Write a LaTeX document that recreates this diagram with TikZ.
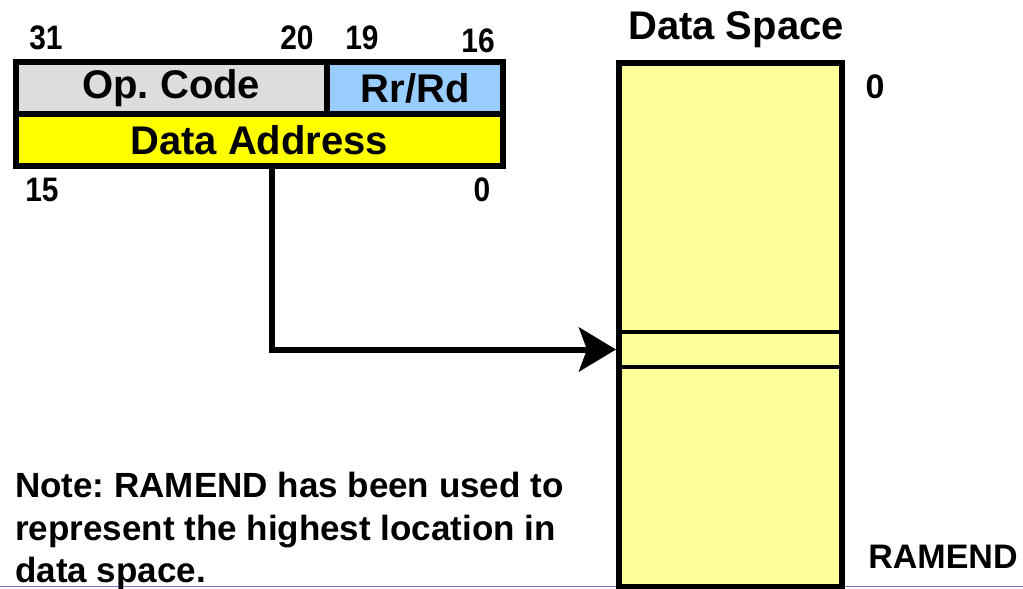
\documentclass[tikz,border=0pt]{standalone}
\usepackage{fontspec}
\setmainfont{Liberation Sans}
\newfontfamily\bitfont[FakeStretch=0.88]{Liberation Sans}
\usetikzlibrary{arrows.meta, positioning}
\definecolor{opgray}{HTML}{DDDDDD}
\definecolor{regblue}{HTML}{99CCFF}
\definecolor{addryellow}{HTML}{FFFF00}
\definecolor{spaceyellow}{HTML}{FFFF99}
\definecolor{slideline}{RGB}{120,120,200}
\frenchspacing

\begin{document}
\begin{tikzpicture}[
    x=1pt, y=-1pt,
    >=Stealth,
    field/.style={
        draw,
        line width=6pt,
        inner sep=0pt,
        outer sep=0pt,
        minimum height=52pt,
        font=\fontsize{40}{48}\selectfont\bfseries
    },
    bitnum/.style={font=\bitfont\fontsize{34}{40}\selectfont\bfseries, inner sep=0pt},
    side/.style={font=\fontsize{34}{40}\selectfont\bfseries, inner sep=0pt},
    title/.style={font=\fontsize{40}{48}\selectfont\bfseries, inner sep=0pt},
    note/.style={
        font=\fontsize{35}{42.5}\selectfont\bfseries,
        align=left,
        inner sep=0pt
    },
    space/.style={
        draw,
        line width=6pt,
        fill=spaceyellow,
        minimum width=223pt,
        minimum height=524pt
    },
    slot/.style={
        draw,
        line width=4pt,
        outer sep=3pt,
        minimum width=223pt,
        minimum height=35pt
    },
    link/.style={line width=6pt, -{Stealth[length=37pt, width=44pt, inset=8pt]}}
]
\useasboundingbox (0,0) rectangle (1023,589);

% ---------------- Instruction word ----------------
\node[field, fill=opgray, minimum width=311.5pt, anchor=north west]
    (opcode) at (15.5,62) {Op. Code};
\node[field, fill=regblue, minimum width=176pt, right=0pt of opcode]
    (reg) {Rr/Rd};
\node[field, fill=addryellow, minimum width=487.5pt, anchor=north west]
    (addr) at (opcode.south west) {Data Address};

\node[bitnum] (b31) at (46,38)  {31};
\node[bitnum] (b20) at (297,38) {20};
\node[bitnum] (b19) at (362,38) {19};
\node[bitnum] (b16) at (478,41) {16};
\node[bitnum] (b15) at (42,190) {15};
\node[bitnum] (b0)  at (482,190) {0};

% ---------------- Data space ----------------
\draw[slideline, line width=1pt] (0,586.5) -- (1023,586.5);

\node[title] (dstitle) at (736,30) {Data Space};
\node[space, anchor=north] (dspace) at (730.5,60) {};
\node[slot] (slot) at (730.5,349.5) {};

\node[side] (low)  at (875,87)  {0};
\node[side] (high) at (943,557) {RAMEND};

% ---------------- Addressing ----------------
\coordinate (bend) at (272,0);
\draw[link] (addr.south -| bend) -- (bend |- slot.west) -- (slot.west);

\node[note, anchor=north west] (remark) at (15,472)
    {Note: RAMEND has been used to\\represent the highest location in\\data space.};

\end{tikzpicture}
\end{document}
